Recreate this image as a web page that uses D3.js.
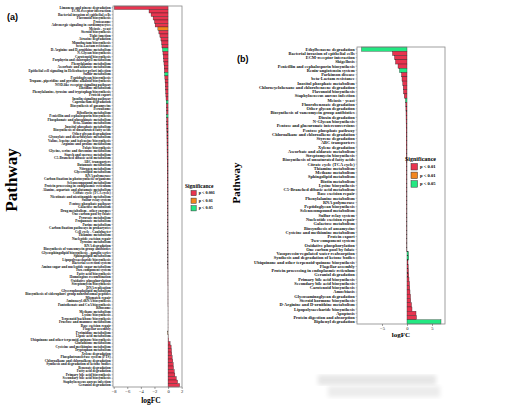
<!DOCTYPE html>
<html lang="en">
<head>
<meta charset="UTF-8">
<title>logFC pathways</title>
<script src="https://d3js.org/d3.v7.min.js"></script>
<style>
  body { margin: 0; background: #fff; }
  svg { display: block; font-family: "Liberation Serif", "DejaVu Serif", serif; }
</style>
</head>
<body>
<svg id="chart" width="516" height="405"></svg>
<script>
// ---- data: panel (a) ----
var pathA = [
  "Limonene and pinene degradation", "ECM-receptor interaction", "Bacterial invasion of epithelial cells",
  "Flavonoid biosynthesis", "Proteasome", "Adrenergic signaling in cardiomyocytes", "Meiosis - yeast",
  "Steroid biosynthesis", "Tight junction", "Atrazine degradation", "Monobactam biosynthesis",
  "beta-Lactam resistance", "D-Arginine and D-ornithine metabolism", "N-Glycan biosynthesis",
  "Carotenoid biosynthesis", "Porphyrin and chlorophyll metabolism", "Phenylalanine metabolism",
  "Ascorbate and aldarate metabolism", "Epithelial cell signaling in Helicobacter pylori infection",
  "Sulfur metabolism", "Peptidoglycan biosynthesis", "Tropane, piperidine and pyridine alkaloid biosynthesis",
  "NOD-like receptor signaling pathway", "Histidine metabolism",
  "Phenylalanine, tyrosine and tryptophan biosynthesis", "Protein export", "Insulin signaling pathway",
  "Caprolactam degradation", "Biosynthesis of ansamycins", "Peroxisome", "Riboflavin metabolism",
  "Penicillin and cephalosporin biosynthesis", "Phosphonate and phosphinate metabolism",
  "beta-Alanine metabolism", "Inositol phosphate metabolism", "Biosynthesis of unsaturated fatty acids",
  "Other glycan degradation", "Glyoxylate and dicarboxylate metabolism",
  "Valine, leucine and isoleucine biosynthesis", "Arginine and proline metabolism", "Folate biosynthesis",
  "Glycine, serine and threonine metabolism", "Starch and sucrose metabolism",
  "C5-Branched dibasic acid metabolism", "ABC transporters", "Butanoate metabolism", "Nitrogen metabolism",
  "Glycerolipid metabolism", "RNA polymerase", "Carbon fixation in photosynthetic organisms",
  "Selenocompound metabolism", "Protein processing in endoplasmic reticulum",
  "Alanine, aspartate and glutamate metabolism", "Citrate cycle (TCA cycle)",
  "Nicotinate and nicotinamide metabolism", "Sulfur relay system", "Pentose phosphate pathway",
  "Galactose metabolism", "Drug metabolism - other enzymes", "One carbon pool by folate",
  "Pyruvate metabolism", "Propanoate metabolism", "Purine metabolism",
  "Carbon fixation pathways in prokaryotes", "Cell cycle - Caulobacter", "Thiamine metabolism",
  "Nucleotide excision repair", "Tyrosine metabolism", "RNA degradation",
  "Biosynthesis of vancomycin group antibiotics", "Glycosphingolipid biosynthesis - ganglio series",
  "Sphingolipid metabolism", "Lipopolysaccharide biosynthesis", "Bacterial secretion system",
  "Amino sugar and nucleotide sugar metabolism", "Two-component system", "Fatty acid biosynthesis",
  "Homologous recombination", "Oxidative phosphorylation", "Streptomycin biosynthesis", "DNA replication",
  "Glycerophospholipid metabolism", "Biosynthesis of siderophore group nonribosomal peptides",
  "Mismatch repair", "Aminoacyl-tRNA biosynthesis", "Pantothenate and CoA biosynthesis", "Ribosome",
  "Methane metabolism", "Lysine biosynthesis", "Terpenoid backbone biosynthesis",
  "Fructose and mannose metabolism", "Base excision repair", "Flagellar assembly", "Pyrimidine metabolism",
  "Lipoic acid metabolism", "Ubiquinone and other terpenoid-quinone biosynthesis", "Glutathione metabolism",
  "Cysteine and methionine metabolism", "Tryptophan metabolism", "Xylene degradation",
  "Phosphotransferase system (PTS)", "Chloroalkane and chloroalkene degradation",
  "Synthesis and degradation of ketone bodies", "Benzoate degradation", "Fatty acid degradation",
  "Primary bile acid biosynthesis", "Secondary bile acid biosynthesis", "Staphylococcus aureus infection",
  "Geraniol degradation"
];
var fcA = [
  -7.9, -2.8, -2.5, -2.2, -2.0, -1.9, -1.5, -1.35, -1.2, -1.05,
  -0.95, -0.9, -0.8, -0.75, -0.7, -0.65, -0.6, -0.57, -0.54, -0.5,
  -0.47, -0.44, -0.41, -0.38, -0.35, -0.32, -0.3, -0.27, -0.25, -0.24,
  -0.23, -0.22, -0.21, -0.2, -0.19, -0.18, -0.17, -0.17, -0.16, -0.16,
  -0.15, -0.15, -0.14, -0.14, -0.13, -0.13, -0.12, -0.12, -0.11, -0.11,
  -0.1, -0.1, -0.1, -0.09, -0.09, -0.09, -0.08, -0.08, -0.08, -0.07,
  -0.07, -0.07, -0.07, -0.06, -0.06, -0.06, -0.06, -0.05, -0.05, -0.05,
  -0.05, -0.04, -0.04, -0.04, -0.04, -0.03, -0.03, -0.03, -0.03, -0.03,
  -0.02, -0.02, -0.02, -0.02, -0.02, -0.02, -0.01, -0.01, -0.01, -0.01,
  -0.01, -0.01, -0.01, -0.05, 0.02, 0.08, 0.3, 0.45, 0.5, 0.55,
  0.6, 0.7, 0.75, 0.8, 0.9, 1.0, 1.2, 1.4, 1.7
];
// 0: p<0.001, 1: p<0.01, 2: p<0.05
var sigA = pathA.map(function() { return 0; });
sigA[6] = 1; sigA[93] = 1;
sigA[12] = 2; sigA[19] = 2; sigA[27] = 2; sigA[31] = 2;

// ---- data: panel (b) ----
var pathB = [
  "Ethylbenzene degradation", "Bacterial invasion of epithelial cells", "ECM-receptor interaction",
  "Shigellosis", "Penicillin and cephalosporin biosynthesis", "Renin-angiotensin system",
  "Parkinson disease", "beta-Lactam resistance", "Inositol phosphate metabolism",
  "Chlorocyclohexane and chlorobenzene degradation", "Flavonoid biosynthesis",
  "Staphylococcus aureus infection", "Meiosis - yeast", "Fluorobenzoate degradation",
  "Other glycan degradation", "Biosynthesis of vancomycin group antibiotics", "Dioxin degradation",
  "N-Glycan biosynthesis", "Pentose and glucuronate interconversions", "Pentose phosphate pathway",
  "Chloroalkane and chloroalkene degradation", "Styrene degradation", "ABC transporters",
  "Xylene degradation", "Ascorbate and aldarate metabolism", "Streptomycin biosynthesis",
  "Biosynthesis of unsaturated fatty acids", "Citrate cycle (TCA cycle)", "Thiamine metabolism",
  "Methane metabolism", "Sphingolipid metabolism", "Biotin metabolism", "Lysine biosynthesis",
  "C5-Branched dibasic acid metabolism", "Base excision repair", "Phenylalanine metabolism",
  "RNA polymerase", "Peptidoglycan biosynthesis", "Selenocompound metabolism", "Sulfur relay system",
  "Nucleotide excision repair", "Galactose metabolism", "Biosynthesis of ansamycins",
  "Cysteine and methionine metabolism", "Protein export", "Two-component system",
  "Oxidative phosphorylation", "One carbon pool by folate", "Vasopressin-regulated water reabsorption",
  "Synthesis and degradation of ketone bodies", "Ubiquinone and other terpenoid-quinone biosynthesis",
  "Flagellar assembly", "Protein processing in endoplasmic reticulum", "Geraniol degradation",
  "Primary bile acid biosynthesis", "Secondary bile acid biosynthesis", "Carotenoid biosynthesis",
  "Amoebiasis", "Glycosaminoglycan degradation", "Steroid hormone biosynthesis",
  "D-Arginine and D-ornithine metabolism", "Lipopolysaccharide biosynthesis", "Apoptosis",
  "Protein digestion and absorption", "Biphenyl degradation"
];
var fcB = [
  -9.1, -2.9, -2.5, -2.3, -1.8, -1.5, -1.1, -1.0, -0.85, -0.75,
  -0.7, -0.55, -0.3, -0.25, -0.22, -0.2, -0.19, -0.18, -0.17, -0.16,
  -0.16, -0.15, -0.15, -0.14, -0.14, -0.13, -0.13, -0.12, -0.12, -0.11,
  -0.11, -0.1, -0.1, -0.1, -0.09, -0.09, -0.09, -0.08, -0.08, -0.08,
  -0.07, -0.07, -0.07, -0.06, -0.06, -0.06, -0.05, -0.05, 0.3, 0.35,
  0.2, 0.25, 0.3, 0.35, 0.4, 0.5, 0.55, 0.6, 0.7, 0.75,
  0.9, 1.0, 1.8, 1.9, 6.8
];
var sigB = pathB.map(function() { return 0; });
sigB[0] = 2; sigB[5] = 2; sigB[12] = 2; sigB[48] = 2; sigB[49] = 2; sigB[64] = 2;

var sigColours = ["#e8344f", "#f2861e", "#23e882"];
var sigLabelsA = ["p < 0.001", "p < 0.01", "p < 0.05"];
var sigLabelsB = ["p < 0.01", "p < 0.01", "p < 0.05"];
var ticksA = [-8, -6, -4, -2, 0, 2];
var ticksB = [-5, 0, 5];

var svg = d3.select("#chart");

function drawPanel(p) {
  var x = d3.scaleLinear().domain(p.domain).range([p.left, p.right]);
  var y = d3.scaleBand().domain(p.names).range([p.top, p.bottom]).padding(0);
  var g = svg.append("g");

  g.selectAll("rect.bar").data(p.values).enter().append("rect")
    .attr("class", "bar")
    .attr("x", function(d) { return x(Math.min(0, d)); })
    .attr("y", function(d, i) { return y(p.names[i]); })
    .attr("width", function(d) { return Math.abs(x(d) - x(0)); })
    .attr("height", y.bandwidth())
    .style("fill", function(d, i) { return sigColours[p.sig[i]]; })
    .style("stroke", "#222")
    .style("stroke-width", 0.35);

  // frame
  g.append("rect")
    .attr("x", p.left).attr("y", p.top)
    .attr("width", p.right - p.left).attr("height", p.bottom - p.top)
    .style("fill", "none").style("stroke", "#888").style("stroke-width", 0.8);

  var ya = g.append("g").attr("transform", "translate(" + p.left + ",0)")
    .call(d3.axisLeft(y).tickSize(1.5).tickPadding(0.8));
  ya.select(".domain").remove();
  ya.selectAll("line").style("stroke", "#444").style("stroke-width", 0.3);
  ya.selectAll("text").style("font-size", p.labelSize + "px").style("font-weight", "bold")
    .style("font-family", "Liberation Serif").style("fill", "#111");

  var xa = g.append("g").attr("transform", "translate(0," + p.bottom + ")")
    .call(d3.axisBottom(x).tickValues(p.ticks).tickSize(2).tickPadding(1));
  xa.select(".domain").remove();
  xa.selectAll("line").style("stroke", "#444").style("stroke-width", 0.5);
  xa.selectAll("text").style("font-size", "4.6px").style("font-family", "Liberation Serif").style("fill", "#222");

  g.append("text").attr("x", p.xLabelX).attr("y", p.xLabelY).attr("text-anchor", "middle")
    .style("font-size", p.xLabelSize + "px").style("font-weight", "bold").text("logFC");

  // legend
  var lg = g.append("g");
  lg.append("text").attr("x", p.legX - 6).attr("y", p.legY - 3)
    .style("font-size", p.legTitle + "px").style("font-weight", "bold").text("Significance");
  lg.selectAll("rect").data(p.legLabels).enter().append("rect")
    .attr("x", p.legX).attr("y", function(d, i) { return p.legY + i * p.legStep; })
    .attr("width", p.legBox).attr("height", p.legBox)
    .style("fill", function(d, i) { return sigColours[i]; })
    .style("stroke", "#333").style("stroke-width", 0.5);
  lg.selectAll("text.lab").data(p.legLabels).enter().append("text")
    .attr("class", "lab")
    .attr("x", p.legX + p.legBox + 2.5)
    .attr("y", function(d, i) { return p.legY + i * p.legStep + p.legBox * 0.72; })
    .style("font-size", p.legText + "px").style("font-weight", "bold").text(function(d) { return d; });
}

drawPanel({
  names: pathA, values: fcA, sig: sigA, domain: [-8.1, 2.05], ticks: ticksA,
  left: 113, right: 182, top: 6, bottom: 387, labelSize: 3.5,
  xLabelX: 151, xLabelY: 403, xLabelSize: 7.5,
  legX: 191, legY: 190.5, legStep: 7.6, legBox: 5.2, legTitle: 5.5, legText: 4.2, legLabels: sigLabelsA
});

drawPanel({
  names: pathB, values: fcB, sig: sigB, domain: [-10, 7.6], ticks: ticksB,
  left: 357, right: 445, top: 47, bottom: 324, labelSize: 4.4,
  xLabelX: 401, xLabelY: 337, xLabelSize: 7,
  legX: 411, legY: 163.5, legStep: 8.6, legBox: 6.5, legTitle: 6, legText: 4.6, legLabels: sigLabelsB
});

// panel tags and y titles
svg.append("text").attr("x", 7).attr("y", 20)
  .style("font-family", "Liberation Sans").style("font-weight", "bold").style("font-size", "9px").text("(a)");
svg.append("text").attr("x", 237).attr("y", 62)
  .style("font-family", "Liberation Sans").style("font-weight", "bold").style("font-size", "9px").text("(b)");

svg.append("text").attr("transform", "translate(17,180) rotate(-90)").attr("text-anchor", "middle")
  .style("font-size", "17px").style("font-weight", "bold").text("Pathway");
svg.append("text").attr("transform", "translate(240,183) rotate(-90)").attr("text-anchor", "middle")
  .style("font-size", "11px").style("font-weight", "bold").text("Pathway");

// faint blurred watermark block
var defs = svg.append("defs");
defs.append("filter").attr("id", "blur").append("feGaussianBlur").attr("stdDeviation", 2);
svg.append("rect").attr("x", 318).attr("y", 375).attr("width", 118).attr("height", 10)
  .style("fill", "#e6e6e6").attr("filter", "url(#blur)");
svg.append("rect").attr("x", 328).attr("y", 386).attr("width", 112).attr("height", 11)
  .style("fill", "#ececec").attr("filter", "url(#blur)");
</script>
</body>
</html>
